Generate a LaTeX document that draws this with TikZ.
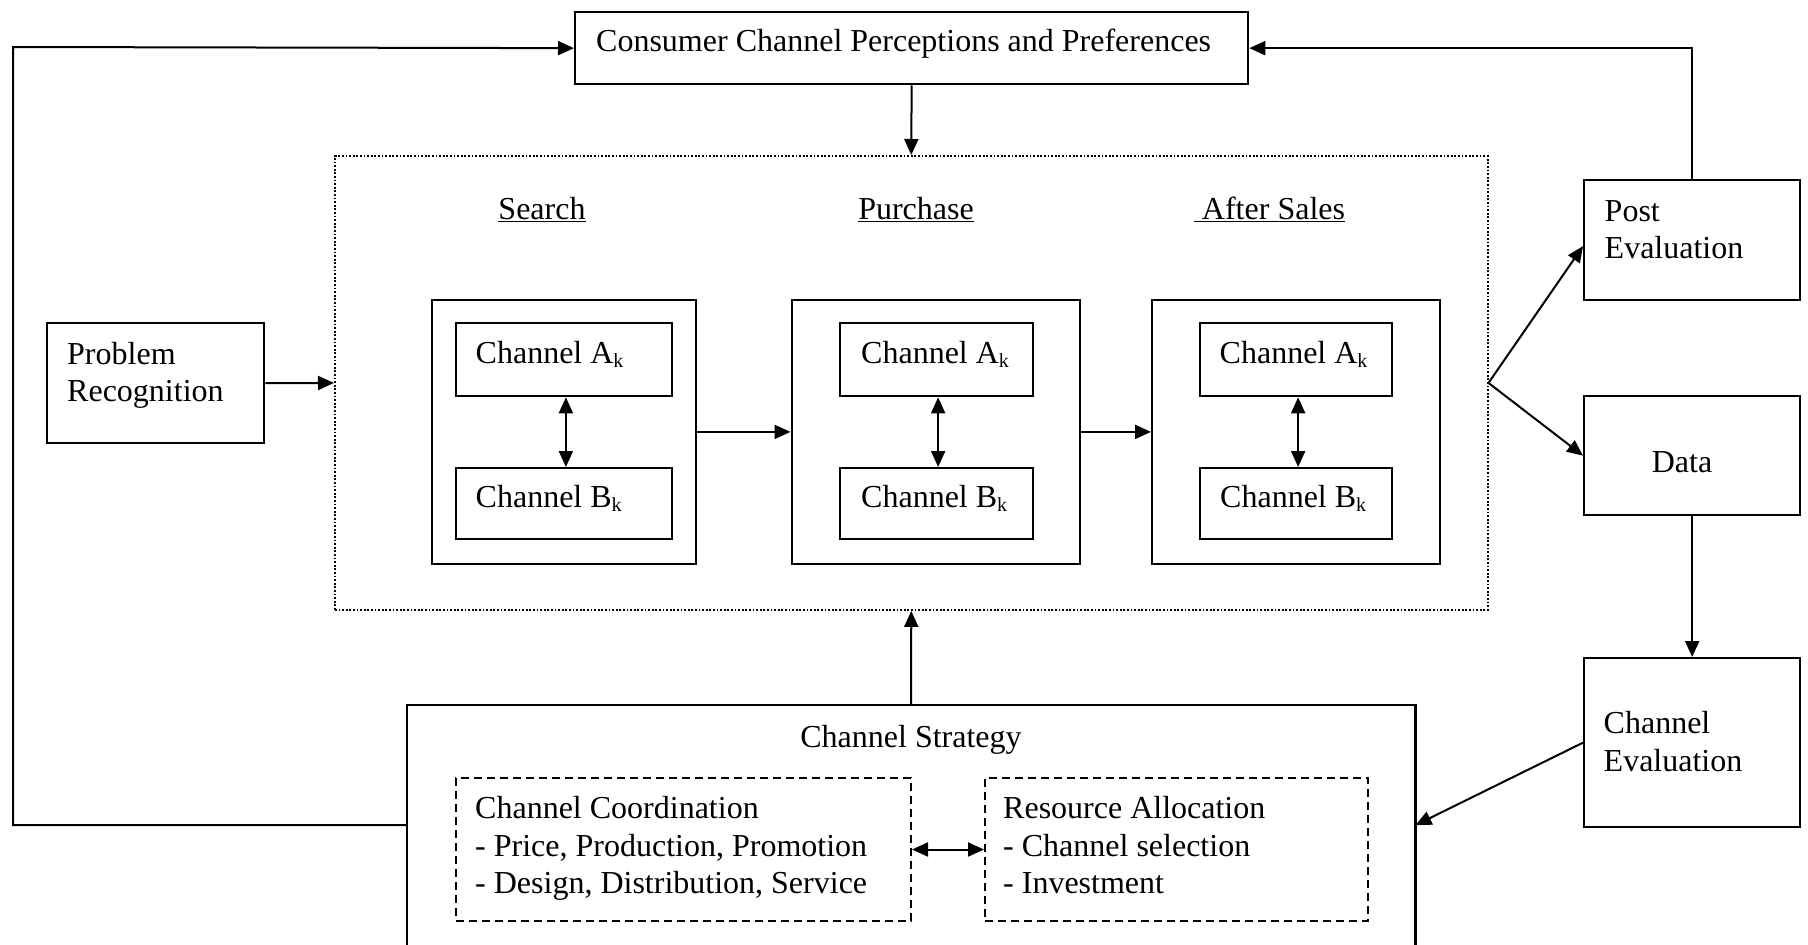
\documentclass[tikz,border=0pt]{standalone}
\usepackage{fontspec}
\setmainfont{Liberation Serif}
\usetikzlibrary{arrows.meta}
\newcommand\subk{\raisebox{-4pt}{\fontsize{20}{20}\selectfont k}}
\newcommand\mylines[1]{\begin{tabular}[t]{@{}l@{}}#1\end{tabular}}
\begin{document}
\begin{tikzpicture}[x=1pt,y=-1pt,
  box/.style={draw, line width=2.3pt, inner sep=0pt, anchor=north west},
  dotbox/.style={draw, line width=1.9pt, dash pattern=on 1.8pt off 1.8pt, inner sep=0pt, anchor=north west},
  dashbox/.style={draw, line width=2pt, dash pattern=on 8pt off 5pt, inner sep=0pt, anchor=north west},
  txt/.style={inner sep=0pt, anchor=base west, font=\fontsize{32}{37.5}\selectfont},
  ctxt/.style={inner sep=0pt, anchor=base, font=\fontsize{32}{37.5}\selectfont},
  arr/.style={line width=2pt, -{Triangle[length=16pt,width=14pt]}},
  darr/.style={line width=2pt, {Triangle[length=16pt,width=14pt]}-{Triangle[length=16pt,width=14pt]}},
]
\fill[white] (0,0) rectangle (1808,945);
\useasboundingbox (0,0) rectangle (1808,945);
\clip (0,0) rectangle (1808,945);

% boxes
\node[box, minimum width=673pt, minimum height=72pt] (cons) at (574,11) {};
\node[box, minimum width=217pt, minimum height=120pt] (prob) at (46,322) {};
\node[dotbox, minimum width=1152.6pt, minimum height=454pt] (stages) at (334,155) {};
\node[box, minimum width=216pt, minimum height=120pt] (post) at (1583,179) {};
\node[box, minimum width=216pt, minimum height=119pt] (data) at (1583,395) {};
\node[box, minimum width=216pt, minimum height=169pt] (ceval) at (1583,657) {};

\node[box, minimum width=264.5pt, minimum height=263.5pt] (sO) at (430.5,299) {};
\node[box, minimum width=288.5pt, minimum height=263.5pt] (pO) at (790.5,299) {};
\node[box, minimum width=288pt, minimum height=263.5pt] (aO) at (1151,299) {};

\node[box, minimum width=216.5pt, minimum height=73pt] (sA) at (454.5,322) {};
\node[box, minimum width=216.5pt, minimum height=71pt] (sB) at (454.5,467) {};
\node[box, minimum width=193pt, minimum height=73pt] (pA) at (838.5,322) {};
\node[box, minimum width=193pt, minimum height=71pt] (pB) at (838.5,467) {};
\node[box, minimum width=192pt, minimum height=73pt] (aA) at (1199,322) {};
\node[box, minimum width=192pt, minimum height=71pt] (aB) at (1199,467) {};

\node[inner sep=0pt, anchor=north west, minimum width=1008pt, minimum height=240pt] (strat) at (407,705) {};
\draw[line width=2.3pt] (strat.south west) -- (strat.north west) -- (strat.north east) -- (strat.south east);
\node[dashbox, minimum width=455pt, minimum height=143pt] (coord) at (455,777) {};
\node[dashbox, minimum width=383pt, minimum height=143pt] (res) at (984,777) {};

% texts
\node[txt] (consT) at (596,51.5) {Consumer Channel Perceptions and Preferences};
\node[txt] (probT) at (67,364) {\mylines{Problem\\Recognition}};
\node[txt] (postT) at (1604.5,221) {\mylines{Post\\Evaluation}};
\node[txt] (dataT) at (1651.6,472.5) {Data};
\node[txt] (cevalT) at (1603.5,733.5) {\mylines{Channel\\Evaluation}};

\node[ctxt] (searchT) at (542,219) {\underline{Search}};
\node[ctxt] (purchT) at (916,219) {\underline{Purchase}};
\node[ctxt] (afterT) at (1269.5,219) {\underline{\ After Sales}};

\node[txt] (sAT) at (475.5,363) {Channel A\subk};
\node[txt] (sBT) at (475.5,507) {Channel B\subk};
\node[txt] (pAT) at (861,363) {Channel A\subk};
\node[txt] (pBT) at (861,507) {Channel B\subk};
\node[txt] (aAT) at (1219.5,363) {Channel A\subk};
\node[txt] (aBT) at (1220,507) {Channel B\subk};

\node[ctxt] (stratT) at (911,747) {Channel Strategy};
\node[txt] (coordT) at (475,818.5) {\mylines{Channel Coordination\\- Price, Production, Promotion\\- Design, Distribution, Service}};
\node[txt] (resT) at (1003,818.5) {\mylines{Resource Allocation\\- Channel selection\\- Investment}};

% connectors
\coordinate (cornerBL) at (13,825);
\coordinate (cornerTL) at (13,47);
\draw[arr] (strat.west) -- (cornerBL) -- (cornerTL) -- (cons.west);
\draw[arr] (cons.south) -- (stages.north);
\draw[arr] (post.north) |- (cons.east);
\draw[arr] (prob.east) -- (stages.west);
\draw[arr] (stages.east) -- ([yshift=-6pt]post.west);
\draw[arr] (stages.east) -- (data.west);
\draw[arr] (data.south) -- (ceval.north);
\draw[arr] (ceval.west) -- (strat.east);
\draw[arr] (strat.north) -- (stages.south);
\draw[arr] (sO.east) -- (pO.west);
\draw[arr] (pO.east) -- (aO.west);
\draw[darr] ([xshift=2pt]sA.south) -- ([xshift=2pt]sB.north);
\draw[darr] ([xshift=2pt]pA.south) -- ([xshift=2pt]pB.north);
\draw[darr] ([xshift=2pt]aA.south) -- ([xshift=2pt]aB.north);
\draw[darr] (coord.east) -- (res.west);
\end{tikzpicture}
\end{document}
